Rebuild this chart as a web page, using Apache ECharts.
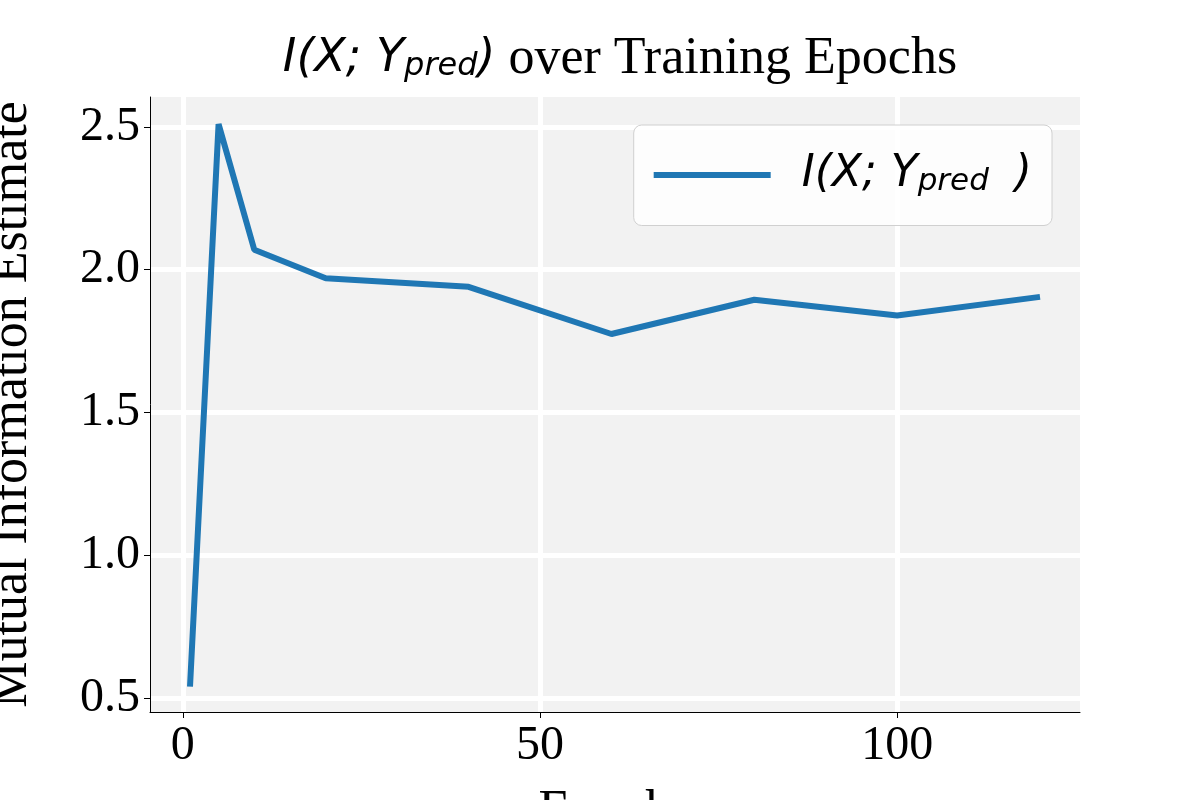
<!DOCTYPE html>
<html>
<head>
<meta charset="utf-8">
<script src="https://cdn.jsdelivr.net/npm/echarts@6/dist/echarts.min.js"></script>
<style>html,body{margin:0;padding:0;background:#fff}#c{width:1200px;height:800px}</style>
</head>
<body>
<div id="c"></div>
<script>
var epochs = [1, 5, 10, 20, 40, 60, 80, 100, 120];
var miValues = [0.54, 2.51, 2.07, 1.97, 1.94, 1.775, 1.895, 1.84, 1.905];
var xTicks = [0, 50, 100];
var yTicks = [0.5, 1.0, 1.5, 2.0, 2.5];

var chart = echarts.init(document.getElementById('c'));
var serif = '"Liberation Serif", "DejaVu Serif", serif';
var sans = '"DejaVu Sans", sans-serif';
var mathRich = {
	m: { fontFamily: sans, fontStyle: 'italic', fontWeight: 'normal', fontSize: 46, color: '#000' },
	s: { fontFamily: sans, fontStyle: 'italic', fontWeight: 'normal', fontSize: 32, color: '#000', padding: [16, 0, 0, 0] },
	t: { fontFamily: serif, fontWeight: 'normal', fontSize: 52, color: '#000' }
};

var option = {
	backgroundColor: '#fff',
	title: {
		text: '{m|I(X; Y}{s|pred}{m|)}{t| over Training Epochs}',
		left: 615, top: 28, textAlign: 'center',
		textStyle: { fontWeight: 'normal', rich: mathRich }
	},
	legend: {
		right: 148, top: 125,
		itemWidth: 117, itemHeight: 6, itemGap: 10,
		padding: [28, 20, 28, 20],
		backgroundColor: 'rgba(255,255,255,0.85)',
		borderColor: '#d0d0d0', borderWidth: 1, borderRadius: 8,
		icon: 'rect',
		formatter: function () { return '{m|I(X; Y}{s|pred}{m|)}'; },
		textStyle: { rich: {
			m: { fontFamily: sans, fontStyle: 'italic', fontSize: 44, color: '#000', padding: [0, 0, 0, 26] },
			s: { fontFamily: sans, fontStyle: 'italic', fontSize: 31, color: '#000', padding: [14, 0, 0, 0] }
		} }
	},
	grid: { left: 150, right: 120, top: 97, bottom: 88, outerBoundsMode: 'none', containLabel: false,
		show: true, backgroundColor: '#f2f2f2', borderWidth: 0 },
	xAxis: {
		type: 'value', min: -4.6, max: 125.6,
		name: 'Epochs', nameLocation: 'middle', nameGap: 74,
		nameTextStyle: { fontFamily: serif, fontSize: 52, color: '#000' },
		axisLine: { show: true, onZero: false, lineStyle: { color: '#000', width: 1 } },
		axisTick: { show: true, length: 6, customValues: xTicks, lineStyle: { color: '#000' } },
		axisLabel: { customValues: xTicks, fontFamily: serif, fontSize: 48, color: '#000', margin: 10 },
		splitLine: { show: true, lineStyle: { color: '#fff', width: 5 } }
	},
	yAxis: {
		type: 'value', min: 0.451, max: 2.605,
		name: 'Mutual Information Estimate', nameLocation: 'middle', nameGap: 112,
		nameTextStyle: { fontFamily: serif, fontSize: 52, color: '#000' },
		axisLine: { show: true, onZero: false, lineStyle: { color: '#000', width: 1 } },
		axisTick: { show: true, length: 6, customValues: yTicks, lineStyle: { color: '#000' } },
		axisLabel: { customValues: yTicks, fontFamily: serif, fontSize: 48, color: '#000', margin: 10,
			formatter: function (v) { return v.toFixed(1); } },
		splitLine: { show: true, lineStyle: { color: '#fff', width: 5 } }
	},
	series: [{
		name: 'I(X;Y_pred)', type: 'line', showSymbol: false, symbol: 'none',
		lineStyle: { color: '#1f77b4', width: 6 }, itemStyle: { color: '#1f77b4' },
		data: epochs.map(function (e, i) { return [e, miValues[i]]; })
	}]
};
chart.setOption(option);
</script>
</body>
</html>
